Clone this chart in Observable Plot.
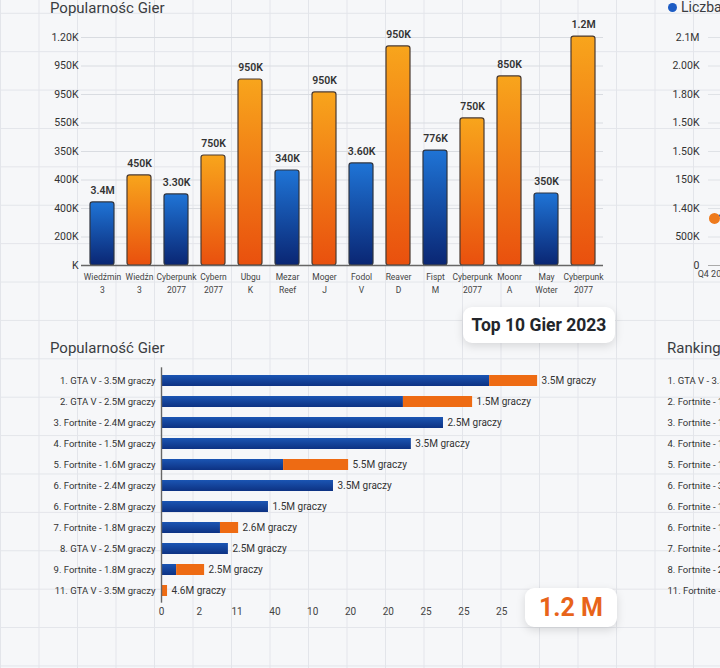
<!DOCTYPE html>
<html><head><meta charset="utf-8">
<script src="https://cdn.jsdelivr.net/npm/d3@7"></script>
<script src="https://cdn.jsdelivr.net/npm/@observablehq/plot@0.6"></script>
<style>
html,body{margin:0;padding:0;}
body{width:720px;height:668px;overflow:hidden;font-family:Roboto,"Open Sans",sans-serif;}
#wrap{position:relative;width:720px;height:668px;overflow:hidden;background-color:#f6f7f9;
 background-image:linear-gradient(to right,#e3e5ea 1px,transparent 1px),linear-gradient(to bottom,#e3e5ea 1px,transparent 1px);
 background-size:38.5px 38.4px;background-position:0px 12.8px;}
.abs{position:absolute;}
.abs svg{max-width:none !important;}
.title{position:absolute;font-size:15px;color:#3a3d42;white-space:nowrap;line-height:18px;}
.badge{position:absolute;background:#fff;border-radius:9px;box-shadow:0 3px 10px rgba(0,0,0,0.13);display:flex;align-items:center;justify-content:center;white-space:nowrap;}
</style></head>
<body><div id="wrap">
<div class="title" style="left:50px;top:0px;line-height:16px;">Popularnośc Gier</div>
<div class="title" style="left:50px;top:339px;">Popularność Gier</div>
<div class="title" style="left:667px;top:339px;">Ranking</div>
<div class="title" style="left:668px;top:-2px;font-size:14px;"><span style="display:inline-block;width:9px;height:9px;border-radius:50%;background:#1d5cc4;margin-right:4px;"></span>Liczba graczy</div>
<div id="chartA" class="abs" style="left:0;top:0;width:620px;height:300px;"></div>
<div id="chartB" class="abs" style="left:660px;top:0;width:400px;height:300px;"></div>
<div id="chartC" class="abs" style="left:0;top:360px;width:640px;height:270px;"></div>
<div id="chartD" class="abs" style="left:660px;top:360px;width:200px;height:270px;"></div>
<div class="badge" style="left:463px;top:307px;width:152px;height:36px;font-size:17.5px;font-weight:700;color:#23262b;">Top 10 Gier 2023</div>
<div class="badge" style="left:525px;top:588px;width:92px;height:39px;font-size:25px;font-weight:700;color:#e8641a;">1.2 M</div>
</div>
<script>
// ---- Top bar chart data ----
const gameNames = ["Wiedźmin\n3","Wiedźn\n3","Cyberpunk\n2077","Cybern\n2077","Ubgu\nK","Mezar\nReef","Moger\nJ","Fodol\nV","Reaver\nD","Fispt\nM","Cyberpunk\n2077","Moonr\nA","May\nWoter","Cyberpunk\n2077"];
const gameValues = [332, 474, 374, 579, 979, 500, 911, 537, 1153, 605, 774, 995, 379, 1205];
const gameLabels = ["3.4M","450K","3.30K","750K","950K","340K","950K","3.60K","950K","776K","750K","850K","350K","1.2M"];
const gameKinds = ["blue","orange","blue","orange","orange","blue","orange","blue","orange","blue","orange","orange","blue","orange"];
const yTicksA = [0,150,300,450,600,750,900,1050,1200];
const yTickLabelsA = ["K","200K","400K","400K","350K","550K","950K","950K","1.20K"];

// ---- Right line chart data ----
const periods = ["Q4 2022","Q1 2023","Q2 2023","Q3 2023","Q4 2023"];
const players = [1.65, 3.2, 4.1, 5.0, 5.6];
const yTickLabelsB = ["0","500K","1.40K","150K","1.50K","1.50K","1.80K","2.00K","2.1M"];

// ---- Horizontal stacked bars data ----
const rowLabels = ["1. GTA V - 3.5M graczy","2. GTA V - 2.5M graczy","3. Fortnite - 2.4M graczy","4. Fortnite - 1.5M graczy","5. Fortnite - 1.6M graczy","6. Fortnite - 2.4M graczy","6. Fortnite - 2.8M graczy","7. Fortnite - 1.8M graczy","8. GTA V - 2.5M graczy","9. Fortnite - 1.8M graczy","11. GTA V - 3.5M graczy"];
const blueVals = [8.68, 6.40, 7.46, 6.61, 3.23, 4.55, 2.83, 1.56, 1.77, 0.40, 0];
const orangeVals = [1.27, 1.83, 0, 0, 1.72, 0, 0, 0.48, 0, 0.74, 0.16];
const endLabels = ["3.5M graczy","1.5M graczy","2.5M graczy","3.5M graczy","5.5M graczy","3.5M graczy","1.5M graczy","2.6M graczy","2.5M graczy","2.5M graczy","4.6M graczy"];
const xTickLabelsC = ["0","2","11","40","10","20","20","25","25","25"];

// ---- Ranking list data ----
const rankingLabels = ["1. GTA V - 3.5M graczy","2. Fortnite - 1.5M graczy","3. Fortnite - 1.8M graczy","4. Fortnite - 1.5M graczy","5. Fortnite - 1.6M graczy","6. Fortnite - 3.5M graczy","6. Fortnite - 1.5M graczy","6. Fortnite - 1.4M graczy","7. Fortnite - 2.5M graczy","8. Fortnite - 2.4M graczy","11. Fortnite - 2.5M graczy"];

const FONT = "Roboto, 'Open Sans', sans-serif";

function addDefs(svg, html) {
  const defs = document.createElementNS("http://www.w3.org/2000/svg", "defs");
  defs.innerHTML = html;
  svg.insertBefore(defs, svg.firstChild);
}

// Chart A
const barData = gameValues.map((v, i) => ({i, v, label: gameLabels[i], kind: gameKinds[i]}));
const chartA = Plot.plot({
  width: 620, height: 300, marginLeft: 81, marginRight: 17, marginTop: 37, marginBottom: 35,
  style: {background: "transparent", fontFamily: FONT, overflow: "visible"},
  x: {type: "band", domain: d3.range(14), paddingInner: 0.36, paddingOuter: 0.18},
  y: {domain: [0, 1200]},
  marks: [
    Plot.gridY(yTicksA, {stroke: "#d9dce1", strokeOpacity: 1}),
    Plot.axisY(yTicksA, {tickSize: 0, tickPadding: 3, tickFormat: d => yTickLabelsA[Math.round(d / 150)], fontSize: 10.5, fill: "#333", label: null}),
    Plot.axisX({tickSize: 0, tickPadding: 5, tickFormat: i => gameNames[i], fontSize: 8.5, lineHeight: 1.55, fill: "#444", label: null}),
    Plot.barY(barData.filter(d => d.kind === "blue"), {x: "i", y: "v", fill: "url(#gBlue)", stroke: "#2e3440", strokeWidth: 1.2, rx: 2.5}),
    Plot.barY(barData.filter(d => d.kind === "orange"), {x: "i", y: "v", fill: "url(#gOrange)", stroke: "#4a3a30", strokeWidth: 1.2, rx: 2.5}),
    Plot.ruleY([0], {stroke: "#666", strokeWidth: 1.4}),
    Plot.text(barData, {x: "i", y: "v", text: "label", dy: -12, fontSize: 10.5, fontWeight: 600, fill: "#333"})
  ]
});
addDefs(chartA, `
  <linearGradient id="gBlue" x1="0" y1="0" x2="0" y2="1"><stop offset="0" stop-color="#1f74d6"/><stop offset="1" stop-color="#0a2673"/></linearGradient>
  <linearGradient id="gOrange" x1="0" y1="0" x2="0" y2="1"><stop offset="0" stop-color="#f8a51c"/><stop offset="1" stop-color="#e9500e"/></linearGradient>`);
document.getElementById("chartA").appendChild(chartA);

// Chart B (partially visible line chart)
const lineData = periods.map((p, i) => ({p, v: players[i], first: i === 0}));
const chartB = Plot.plot({
  width: 400, height: 300, marginLeft: 48, marginRight: 20, marginTop: 37, marginBottom: 35,
  style: {background: "transparent", fontFamily: FONT, overflow: "visible"},
  x: {type: "point", domain: periods, padding: 0.05},
  y: {domain: [0, 8]},
  marks: [
    Plot.gridY(d3.range(9), {stroke: "#dfe2e6", strokeOpacity: 1}),
    Plot.axisY(d3.range(9), {tickSize: 0, tickPadding: 9, tickFormat: d => yTickLabelsB[d], fontSize: 10.5, fill: "#333", label: null}),
    Plot.axisX({tickSize: 0, tickPadding: 5, fontSize: 9, fill: "#444", label: null}),
    Plot.ruleY([0], {stroke: "#aaa"}),
    Plot.line(lineData, {x: "p", y: "v", stroke: "#1d5cc4", strokeWidth: 2}),
    Plot.dot(lineData.filter(d => !d.first), {x: "p", y: "v", r: 5.5, fill: "#1d5cc4"}),
    Plot.dot(lineData.filter(d => d.first), {x: "p", y: "v", r: 5.5, fill: "#ee7a1c"})
  ]
});
document.getElementById("chartB").appendChild(chartB);

// Chart C (horizontal stacked bars)
const segData = rowLabels.map((r, i) => ({i, b: blueVals[i], t: blueVals[i] + orangeVals[i], label: endLabels[i]}));
const chartC = Plot.plot({
  width: 640, height: 270, marginLeft: 161, marginRight: 25.4, marginTop: 7.3, marginBottom: 27.3,
  style: {background: "transparent", fontFamily: FONT, overflow: "visible"},
  x: {domain: [0, 12]},
  y: {type: "band", domain: d3.range(11), paddingInner: 0.48, paddingOuter: 0.24},
  marks: [
    Plot.axisY({tickSize: 0, tickPadding: 6, tickFormat: i => rowLabels[i], fontSize: 9.5, fill: "#333", label: null}),
    Plot.axisX(d3.range(10), {tickSize: 0, tickPadding: 5, tickFormat: d => xTickLabelsC[d], fontSize: 10, fill: "#444", label: null}),
    Plot.barX(segData.filter(d => d.b > 0), {x1: 0, x2: "b", y: "i", fill: "url(#hBlue)"}),
    Plot.barX(segData.filter(d => d.t > d.b), {x1: "b", x2: "t", y: "i", fill: "#ee6b13"}),
    Plot.ruleX([0], {stroke: "#666", strokeWidth: 1.4}),
    Plot.text(segData, {x: "t", y: "i", text: "label", dx: 4, textAnchor: "start", fontSize: 10, fill: "#333"})
  ]
});
addDefs(chartC, `<linearGradient id="hBlue" x1="0" y1="0" x2="0" y2="1"><stop offset="0" stop-color="#1b55b3"/><stop offset="1" stop-color="#0d3283"/></linearGradient>`);
document.getElementById("chartC").appendChild(chartC);

// Chart D (ranking list, clipped)
const rankData = rankingLabels.map((t, i) => ({i, t}));
const chartD = Plot.plot({
  width: 200, height: 270, marginLeft: 7, marginRight: 0, marginTop: 7.3, marginBottom: 27.3,
  style: {background: "transparent", fontFamily: FONT, overflow: "visible"},
  y: {type: "band", domain: d3.range(11), paddingInner: 0.48, paddingOuter: 0.24, axis: null},
  marks: [
    Plot.text(rankData, {y: "i", text: "t", frameAnchor: "left", textAnchor: "start", fontSize: 9.5, fill: "#333"})
  ]
});
document.getElementById("chartD").appendChild(chartD);
</script>
</body></html>
